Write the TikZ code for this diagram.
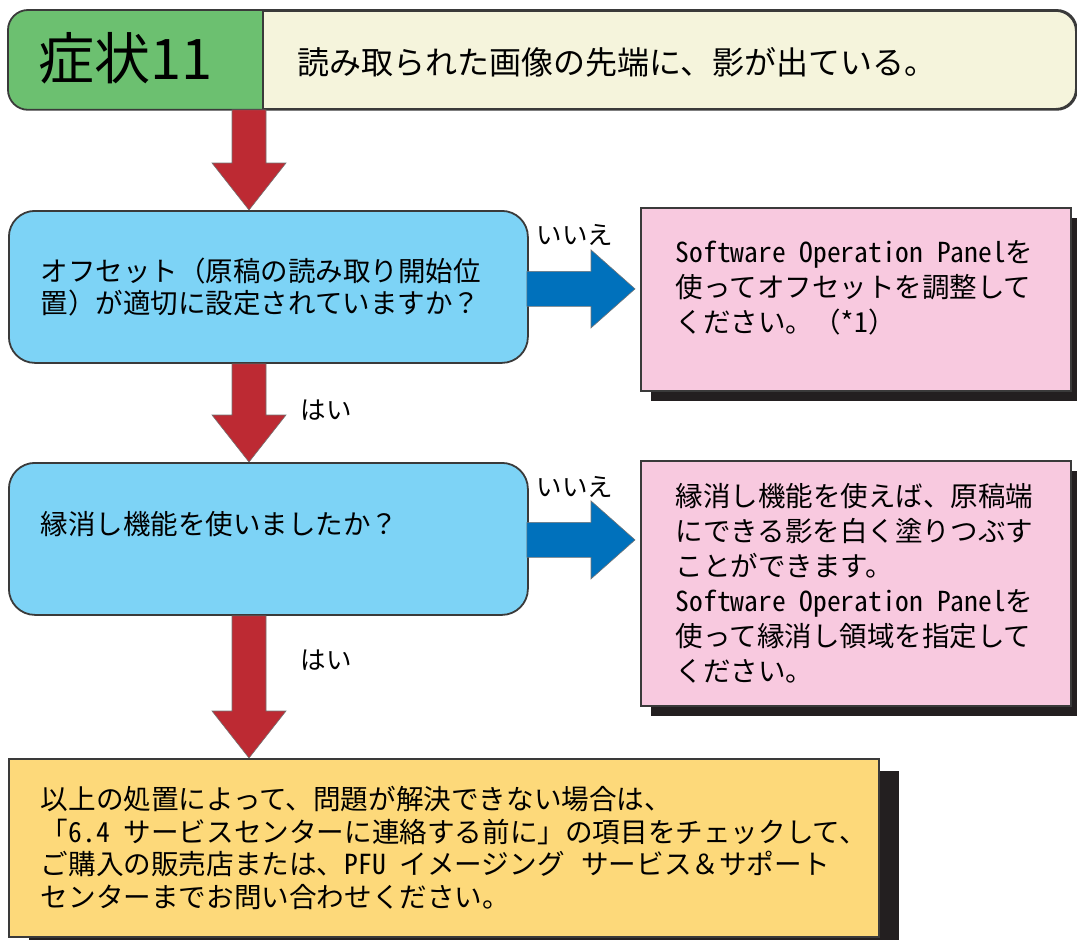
\documentclass[tikz,border=0pt]{standalone}
\usepackage{fontspec}
\setmainfont{Noto Sans CJK JP}
\newfontfamily\hwfont[RawFeature=+hwid]{Noto Sans CJK JP}
\usetikzlibrary{calc,shadows}
\definecolor{symgreen}{HTML}{6CC070}
\definecolor{beige}{HTML}{F5F4DC}
\definecolor{qblue}{HTML}{7DD3F6}
\definecolor{pinkc}{HTML}{F8C9DF}
\definecolor{yellowc}{HTML}{FDD97A}
\definecolor{arrowred}{HTML}{BD2A33}
\definecolor{arrowblue}{HTML}{0071BC}
\definecolor{shadowc}{HTML}{231F20}
\definecolor{linec}{HTML}{3A3A3A}
\newcommand{\fstitle}{\fontsize{56}{60}\selectfont}
\newcommand{\fshead}{\fontsize{32}{36}\selectfont}
\newcommand{\fsbody}{\fontsize{27.5}{32}\selectfont}
\newcommand{\fsans}{\fontsize{27.5}{35}\selectfont}
\newcommand{\fsend}{\fontsize{27.6}{32.5}\selectfont}
\newcommand{\fslbl}{\fontsize{25.5}{28}\selectfont}
\newcommand{\hs}{\hspace{0.5em}}

\begin{document}
\begin{tikzpicture}[
  x=1pt,y=-1pt,
  edge/.style={draw=linec,line width=1.8pt},
  headbox/.style={edge,fill=beige,rounded corners=20pt,
    minimum width=1067pt,minimum height=98pt,inner sep=0pt},
  qbox/.style={edge,fill=qblue,rounded corners=26pt,
    minimum width=519pt,minimum height=152pt,text width=455pt,
    inner xsep=32pt,align=left,font=\fsbody},
  abox/.style={edge,fill=pinkc,minimum width=430pt,text width=360pt,
    inner xsep=35pt,align=left,font=\fsans,
    drop shadow={shadow xshift=10pt,shadow yshift=-10pt,fill=shadowc,opacity=1}},
  endbox/.style={edge,fill=yellowc,minimum width=870pt,minimum height=178pt,
    text width=806pt,inner xsep=32pt,align=left,font=\fsend,
    drop shadow={shadow xshift=20pt,shadow yshift=-12pt,fill=shadowc,opacity=1}},
  lbl/.style={font=\fslbl,inner sep=0pt},
  redarrow/.style={fill=arrowred,draw=black!55,line width=0.6pt,
    to path={($(\tikztostart)+(-17,0)$) -- ($(\tikztotarget)+(-17,-47)$)
      -- ($(\tikztotarget)+(-37,-47)$) -- (\tikztotarget)
      -- ($(\tikztotarget)+(37,-47)$) -- ($(\tikztotarget)+(17,-47)$)
      -- ($(\tikztostart)+(17,0)$) -- cycle}},
  bluearrow/.style={fill=arrowblue,draw=black!55,line width=0.6pt,
    to path={($(\tikztostart)+(0,-17.5)$) -- ($(\tikztotarget)+(-44,-17.5)$)
      -- ($(\tikztotarget)+(-44,-39)$) -- (\tikztotarget)
      -- ($(\tikztotarget)+(-44,39)$) -- ($(\tikztotarget)+(-44,17.5)$)
      -- ($(\tikztostart)+(0,17.5)$) -- cycle}}
]
\useasboundingbox (0,0) rectangle (1077,940);

% header: symptom number on green, description on beige
\node[headbox,anchor=north west] (head) at (8,10) {};
\coordinate (div) at (263,0);
\begin{scope}
  \clip (head.north west) rectangle (head.south -| div);
  \fill[symgreen,rounded corners=20pt] (head.north west) rectangle (head.south east);
\end{scope}
\draw[edge,rounded corners=20pt] (head.north west) rectangle (head.south east);
\draw[edge] (head.north -| div) -- (head.south -| div);
\node[anchor=west,font=\fstitle,inner sep=0pt] (sym) at (38,58) {症状11};
\node[anchor=west,font=\fshead,inner sep=0pt] (title) at (297,62)
  {読み取られた画像の先端に、影が出ている。};

% questions
\node[qbox,anchor=north west] (q1) at (8,210)
  {オフセット（原稿の読み取り開始位\\置）が適切に設定されていますか？};
\node[qbox,anchor=north west] (q2) at (8,462)
  {縁消し機能を使いましたか？\\\mbox{}};

% answers
\node[abox,anchor=north west,minimum height=183pt] (a1) at (640,207)
  {\mbox{{\hwfont Software\hs Operation\hs Panel}を}\\使ってオフセットを調整して\\
   ください。（{\hwfont *1}）\\[-10pt]\mbox{}};
\node[abox,anchor=north west,minimum height=245pt] (a2) at (640,460)
  {縁消し機能を使えば、原稿端\\にできる影を白く塗りつぶす\\ことができます。\\
   \mbox{{\hwfont Software\hs Operation\hs Panel}を}\\使って縁消し領域を指定して\\ください。};

% final box
\node[endbox,anchor=north west] (fin) at (8,758)
  {以上の処置によって、問題が解決できない場合は、\\
   \mbox{「{\hwfont 6.4}\hs サービスセンターに連絡する前に」の項目をチェックして、}\\
   \mbox{ご購入の販売店または、{\hwfont PFU}\hs イメージング\hspace{0.6em}サービス＆サポート}\\
   センターまでお問い合わせください。};

% fat arrows
\coordinate (col) at (249,0);
\coordinate (r1a) at (head.south -| col);
\coordinate (r1z) at (q1.north -| col);
\coordinate (r2a) at (q1.south -| col);
\coordinate (r2z) at (q2.north -| col);
\coordinate (r3a) at (q2.south -| col);
\coordinate (r3z) at (fin.north -| col);
\draw[redarrow] (r1a) to (r1z);
\draw[redarrow] (r2a) to (r2z);
\draw[redarrow] (r3a) to (r3z);

\coordinate (b1a) at ($(q1.east)+(-2,2)$);
\coordinate (b1z) at ($(q1.east -| a1.west)+(-5,2)$);
\coordinate (b2a) at ($(q2.east)+(-2,1)$);
\coordinate (b2z) at ($(q2.east -| a2.west)+(-5,1)$);
\draw[bluearrow] (b1a) to (b1z);
\draw[bluearrow] (b2a) to (b2z);

\node[lbl] (no1) at (575,235) {いいえ};
\node[lbl] (no2) at (575,487) {いいえ};
\node[lbl] (yes1) at (326,410) {はい};
\node[lbl] (yes2) at (326,660) {はい};
\end{tikzpicture}
\end{document}
